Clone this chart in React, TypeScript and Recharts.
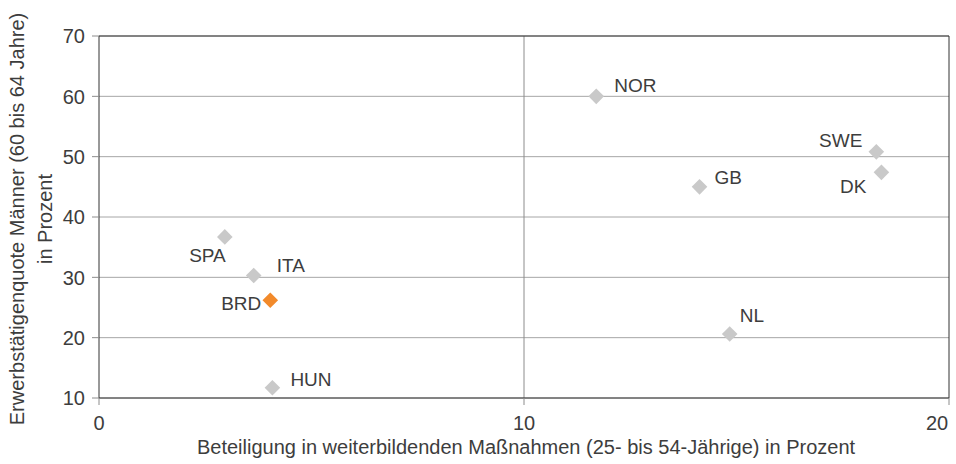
import React from 'react';
import { ScatterChart, Scatter, XAxis, YAxis, CartesianGrid, ReferenceLine } from 'recharts';

const countries = ['NOR', 'SWE', 'DK', 'GB', 'NL', 'SPA', 'ITA', 'HUN'];
const participation = [11.7, 18.29, 18.41, 14.13, 14.84, 2.96, 3.64, 4.08];
const employment = [60.0, 50.8, 47.4, 45.0, 20.6, 36.7, 30.3, 11.7];

const highlightCountries = ['BRD'];
const highlightParticipation = [4.03];
const highlightEmployment = [26.2];

const xTicks = [0, 10, 20];
const yTicks = [10, 20, 30, 40, 50, 60, 70];

const xTitle = 'Beteiligung in weiterbildenden Maßnahmen (25- bis 54-Jährige) in Prozent';
const yTitle1 = 'Erwerbstätigenquote Männer (60 bis 64 Jahre)';
const yTitle2 = 'in Prozent';

const labelPlacement: Record<string, { anchor: 'start' | 'end'; dx: number; dy: number }> = {
  NOR: { anchor: 'start', dx: 18, dy: -11 },
  SWE: { anchor: 'end', dx: -14, dy: -12 },
  DK: { anchor: 'end', dx: -15, dy: 14 },
  GB: { anchor: 'start', dx: 15, dy: -10 },
  NL: { anchor: 'start', dx: 10, dy: -19 },
  SPA: { anchor: 'end', dx: 1, dy: 18 },
  ITA: { anchor: 'start', dx: 23, dy: -10 },
  BRD: { anchor: 'end', dx: -9, dy: 3 },
  HUN: { anchor: 'start', dx: 18, dy: -9 },
};

const FONT = '"Liberation Sans", Arial, sans-serif';
const TEXT = '#3d3d3d';
const FS = 20;

const grayData = countries.map((name, i) => ({ name, x: participation[i], y: employment[i] }));
const highlightData = highlightCountries.map((name, i) => ({
  name,
  x: highlightParticipation[i],
  y: highlightEmployment[i],
}));

const makeShape = (fill: string) => (props: any) => {
  const { cx, cy, payload } = props;
  const p = labelPlacement[payload.name] || { anchor: 'start', dx: 12, dy: 0 };
  const r = 7.8;
  return (
    <g>
      <polygon points={`${cx},${cy - r} ${cx + r},${cy} ${cx},${cy + r} ${cx - r},${cy}`} fill={fill} />
      <text
        x={cx + p.dx}
        y={cy + p.dy}
        dy="0.36em"
        textAnchor={p.anchor}
        fontSize={19}
        fontFamily={FONT}
        fill={TEXT}
      >
        {payload.name}
      </text>
    </g>
  );
};

const XTick = (props: any) => {
  const { x, y, payload } = props;
  const shift = payload.value === 20 ? -11 : 0;
  return (
    <text x={x + shift} y={y} dy="0.36em" textAnchor="middle" fontSize={FS} fontFamily={FONT} fill={TEXT}>
      {payload.value}
    </text>
  );
};

const YTick = (props: any) => {
  const { x, y, payload } = props;
  return (
    <text x={x} y={y} dy="0.36em" textAnchor="end" fontSize={FS} fontFamily={FONT} fill={TEXT}>
      {payload.value}
    </text>
  );
};

const renderYTitle = () => (
  <g>
    <text
      x={17}
      y={219}
      dy="0.36em"
      transform="rotate(-90, 17, 219)"
      textAnchor="middle"
      fontSize={FS}
      fontFamily={FONT}
      fill={TEXT}
    >
      {yTitle1}
    </text>
    <text
      x={45}
      y={219}
      dy="0.36em"
      transform="rotate(-90, 45, 219)"
      textAnchor="middle"
      fontSize={FS}
      fontFamily={FONT}
      fill={TEXT}
    >
      {yTitle2}
    </text>
  </g>
);

const renderXTitle = () => (
  <text x={526} y={447} dy="0.36em" textAnchor="middle" fontSize={FS} fontFamily={FONT} fill={TEXT}>
    {xTitle}
  </text>
);

export default function App() {
  return (
    <div style={{ position: 'absolute', left: 0, top: 0, background: '#fff' }}>
      <ScatterChart width={956} height={464} margin={{ top: 36, right: 7, bottom: 0, left: 0 }}>
        <CartesianGrid horizontal={true} vertical={false} stroke="#a6a6a6" />
        <XAxis
          type="number"
          dataKey="x"
          domain={[0, 20]}
          ticks={xTicks}
          height={66}
          tickSize={7}
          tickMargin={18}
          tick={<XTick />}
          tickLine={{ stroke: '#8c8c8c' }}
          axisLine={{ stroke: '#333' }}
          label={renderXTitle}
        />
        <YAxis
          type="number"
          dataKey="y"
          domain={[10, 70]}
          ticks={yTicks}
          width={99}
          tickSize={7}
          tickMargin={7}
          tick={<YTick />}
          tickLine={{ stroke: '#8c8c8c' }}
          axisLine={{ stroke: '#333' }}
          label={renderYTitle}
        />
        <ReferenceLine x={10} stroke="#8c8c8c" />
        <ReferenceLine y={70} stroke="#333" />
        <ReferenceLine x={20} stroke="#333" />
        <Scatter data={grayData} fill="#c9c9c9" shape={makeShape('#c9c9c9')} isAnimationActive={false} />
        <Scatter data={highlightData} fill="#f28a2b" shape={makeShape('#f28a2b')} isAnimationActive={false} />
      </ScatterChart>
    </div>
  );
}
